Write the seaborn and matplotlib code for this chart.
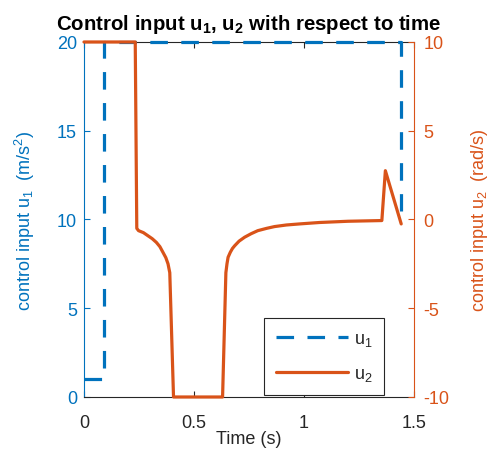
import numpy as np
import pandas as pd
import matplotlib
matplotlib.use("Agg")
import matplotlib.pyplot as plt
import seaborn as sns

# ---- data ----
t_u1 = [0.0, 0.09, 0.09, 1.44, 1.44]
u1 = [1.0, 1.0, 20.0, 20.0, 10.5]

t_u2 = [0.0, 0.233, 0.24, 0.248, 0.27, 0.29, 0.31, 0.329, 0.345, 0.359,
        0.372, 0.382, 0.39, 0.407,
        0.63, 0.645, 0.65, 0.655, 0.665, 0.675, 0.685, 0.705, 0.73, 0.76,
        0.79, 0.83, 0.866, 0.92, 0.98, 1.07, 1.2, 1.354,
        1.37, 1.442]
u2 = [10.0, 10.0, -0.5, -0.63, -0.74, -0.91, -1.08, -1.29, -1.53, -1.85,
      -2.15, -2.5, -3.0, -10.0,
      -10.0, -3.0, -2.5, -2.13, -1.85, -1.63, -1.48, -1.22, -1.0, -0.8,
      -0.63, -0.5, -0.40, -0.31, -0.25, -0.17, -0.1, -0.06,
      2.75, -0.25]

x_ticks = [0, 0.5, 1, 1.5]
x_tick_labels = ["0", "0.5", "1", "1.5"]
left_ticks = [0, 5, 10, 15, 20]
right_ticks = [-10, -5, 0, 5, 10]

BLUE = "#0072BD"
ORANGE = "#D95319"
DARK = "#262626"

sns.set_style("white")
plt.rcParams["font.family"] = ["Liberation Sans", "DejaVu Sans"]
plt.rcParams["mathtext.default"] = "regular"

df1 = pd.DataFrame({"t": t_u1, "u1": u1})
df2 = pd.DataFrame({"t": t_u2, "u2": u2})

fig = plt.figure(figsize=(4.92, 4.52), dpi=100)
ax = fig.add_axes([0.1707, 0.1195, 0.6707, 0.7854])
ax2 = ax.twinx()

sns.lineplot(data=df1, x="t", y="u1", ax=ax, estimator=None, sort=False,
             color=BLUE, lw=2.3, linestyle=(0, (5.5, 4.2)), clip_on=False,
             zorder=3)
sns.lineplot(data=df2, x="t", y="u2", ax=ax2, estimator=None, sort=False,
             color=ORANGE, lw=2.3, clip_on=False, zorder=3)

ax.set_xlim(0, 1.5)
ax.set_ylim(0, 20)
ax2.set_ylim(-10, 10)
ax.set_xticks(x_ticks)
ax.set_xticklabels(x_tick_labels)
ax.set_yticks(left_ticks)
ax2.set_yticks(right_ticks)
ax2.set_yticklabels([str(v) for v in right_ticks])

fs = 13
ax.tick_params(axis="x", direction="in", length=4, width=0.8, colors=DARK,
               labelsize=fs, pad=12, top=True, bottom=True)
ax.tick_params(axis="y", direction="in", length=4, width=0.8, colors=BLUE,
               labelsize=fs, pad=5, left=True, right=False)
ax2.tick_params(axis="y", direction="in", length=4, width=0.8, colors=ORANGE,
                labelsize=fs, pad=7, right=True, left=False)
ax2.tick_params(axis="x", top=False, bottom=False)

for s in ax.spines.values():
    s.set_linewidth(0.8)
    s.set_color(DARK)
ax.spines["left"].set_color(BLUE)
ax.spines["right"].set_visible(False)
for name, s in ax2.spines.items():
    s.set_linewidth(0.8)
    s.set_visible(name == "right")
ax2.spines["right"].set_color(ORANGE)
ax.grid(False)
ax2.grid(False)

ax.set_xlabel("Time (s)", fontsize=fs, color=DARK)
ax.xaxis.set_label_coords(0.5, -0.093)
ax.set_ylabel("control input u$_1$  (m/s$^2$)", fontsize=fs, color=BLUE)
ax.yaxis.set_label_coords(-0.142, 0.5)
ax2.set_ylabel("control input u$_2$  (rad/s)", fontsize=fs, color=ORANGE)
ax2.yaxis.set_label_coords(1.168, 0.5)

ax.set_title("Control input u$_1$, u$_2$ with respect to time",
             fontsize=14.7, fontweight="bold", color="black", pad=9)

h1 = ax.get_lines()[0]
h2 = ax2.get_lines()[0]
leg = ax2.legend([h1, h2], ["u$_1$", "u$_2$"], loc="lower left",
                 bbox_to_anchor=(0.545, 0.006), borderaxespad=0,
                 fontsize=fs, frameon=True, fancybox=False, edgecolor=DARK,
                 framealpha=1, handlelength=4.0, handletextpad=0.35,
                 labelspacing=0.95, borderpad=0.65)
leg.get_frame().set_linewidth(0.8)
leg.set_zorder(5)

fig.savefig("out.png", dpi=100)
